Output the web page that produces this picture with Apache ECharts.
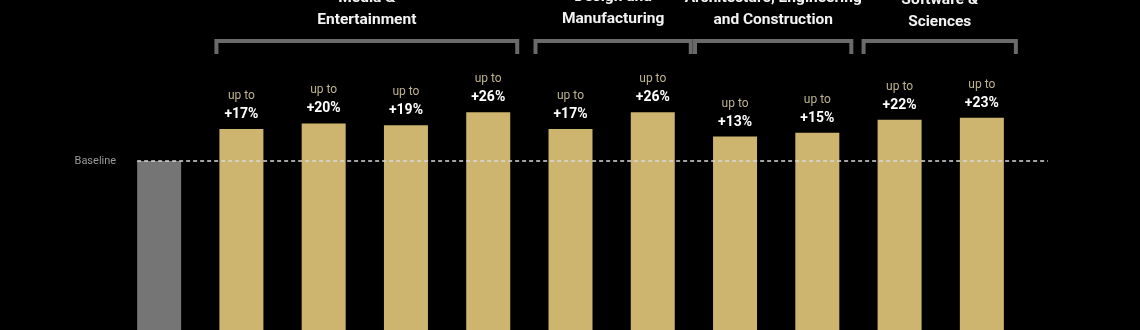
<!DOCTYPE html>
<html>
<head>
<meta charset="utf-8">
<script src="https://cdn.jsdelivr.net/npm/echarts@6/dist/echarts.min.js"></script>
<style>
html,body{margin:0;padding:0;background:#000;}
#chart{width:1140px;height:330px;}
</style>
</head>
<body>
<div id="chart"></div>
<script>
// ---- data ----
const categories = ['Baseline','ME1','ME2','ME3','ME4','DM1','DM2','AEC1','AEC2','SS1','SS2'];
const baselineValue = 100;
const gains = [17, 20, 19, 26, 17, 26, 13, 15, 22, 23];   // "up to +X%" per bar after the baseline
const groupNames = [
  ['Media &', 'Entertainment'],
  ['Design and', 'Manufacturing'],
  ['Architecture, Engineering', 'and Construction'],
  ['Software &', 'Sciences']
];
const groupStart = [1, 5, 7, 9];
const groupEnd   = [4, 6, 8, 10];
const baselineLabel = 'Baseline';
const upToText = 'up to';

// ---- styling ----
const FONT = "Roboto,'Noto Sans',sans-serif";
const GOLD = '#CDB46F';
const GREY_BAR = '#757575';
const bracketPad = [[25, 29], [35, 38], [40, 34], [36, 34]];
const titleY2 = [20, 19, 20, 22];

const barData = [{value: baselineValue, itemStyle: {color: GREY_BAR}, label: {show: false}}]
  .concat(gains.map(g => ({value: baselineValue + g})));

const groupData = groupStart.map((s, i) => [s, groupEnd[i], baselineValue, i]);

const chart = echarts.init(document.getElementById('chart'), null, {renderer: 'canvas'});
chart.setOption({
  backgroundColor: '#000',
  animation: false,
  grid: {left: 118, right: 117, top: 104.7, bottom: 0, containLabel: false},
  xAxis: {type: 'category', data: categories, show: false},
  yAxis: {type: 'value', min: 10, max: 130, show: false, splitLine: {show: false}},
  series: [
    {
      type: 'bar',
      data: barData,
      barWidth: 44,
      itemStyle: {color: GOLD},
      label: {
        show: true,
        position: 'top',
        distance: 6,
        formatter: p => '{a|' + upToText + '}\n{b|+' + gains[p.dataIndex - 1] + '%}',
        rich: {
          a: {fontFamily: FONT, fontSize: 12, color: '#bdb38f', lineHeight: 20, align: 'center'},
          b: {fontFamily: FONT, fontSize: 14, fontWeight: 'bold', color: '#ffffff', lineHeight: 17, align: 'center'}
        }
      },
      z: 2
    },
    {
      // dashed baseline + label
      type: 'custom',
      data: [[0, baselineValue]],
      encode: {x: 0, y: 1},
      clip: false,
      z: 5,
      renderItem: (params, api) => {
        const p0 = api.coord([0, baselineValue]);
        const pEnd = api.coord([categories.length - 1, baselineValue]);
        const x0 = p0[0] - 22;
        const x1 = pEnd[0] + 66;
        return {
          type: 'group',
          children: [
            {type: 'line', shape: {x1: x0, y1: p0[1], x2: x1, y2: p0[1]},
             style: {stroke: '#d8d8d8', lineWidth: 1.5, lineDash: [4, 3]}},
            {type: 'text', style: {x: x0 - 21, y: p0[1], text: baselineLabel, fill: '#9a9a9a',
              font: '11px ' + FONT, align: 'right', verticalAlign: 'middle'}}
          ]
        };
      }
    },
    {
      // group brackets and titles
      type: 'custom',
      data: groupData,
      encode: {x: [0, 1], y: 2},
      clip: false,
      z: 4,
      renderItem: (params, api) => {
        const gi = api.value(3);
        const a = api.coord([api.value(0), baselineValue]);
        const b = api.coord([api.value(1), baselineValue]);
        const left = a[0] - bracketPad[gi][0];
        const right = b[0] + bracketPad[gi][1];
        const top = 41, bottom = 54;
        const cx = (left + right) / 2;
        const names = groupNames[gi];
        return {
          type: 'group',
          children: [
            {type: 'polyline', shape: {points: [[left, bottom], [left, top], [right, top], [right, bottom]]},
             style: {stroke: '#6a6a6a', lineWidth: 4, fill: null}},
            {type: 'text', style: {x: cx, y: titleY2[gi] - 22, text: names[0], fill: '#f2f2f2',
              font: 'bold 15.5px ' + FONT, align: 'center', verticalAlign: 'middle'}},
            {type: 'text', style: {x: cx, y: titleY2[gi], text: names[1], fill: '#f2f2f2',
              font: 'bold 15.5px ' + FONT, align: 'center', verticalAlign: 'middle'}}
          ]
        };
      }
    }
  ]
});
</script>
</body>
</html>
